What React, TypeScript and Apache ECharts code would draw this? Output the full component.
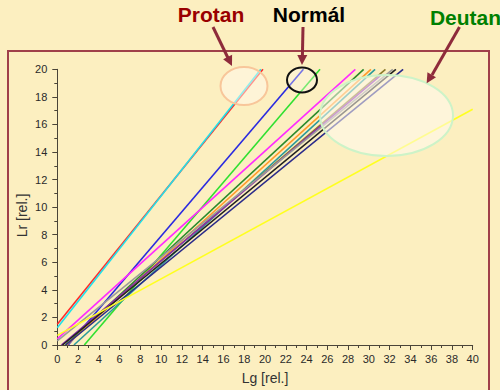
import React, { useEffect, useRef } from "react";
import * as echarts from "echarts";

const lineNames = ["red", "cyan", "blue", "lime", "magenta", "darkgreen", "orange", "teal", "olive", "purple", "gray", "black", "navy", "yellow"];
const lineStarts: [number, number][] = [
  [0, 1.5], [0, 1.25], [1.05, 0], [2.6, 0], [0, 0.45], [0.8, 0], [0.9, 0], [1.6, 0], [0.5, 0], [0.4, 0], [0, 0.3], [0.5, 0], [0.8, 0], [0, 0.7],
];
const lineEnds: [number, number][] = [
  [19.8, 20], [19.6, 20], [23.7, 20], [25.3, 20], [28.7, 20], [29.5, 20], [30.2, 20], [30.6, 20], [31.6, 20], [31.2, 19.6], [32.3, 20], [32.6, 20], [33.3, 20], [40, 17.1],
];
const lineColors = ["#ff2a2a", "#22e0e8", "#2a2ae0", "#30e030", "#ff2aff", "#2a8a2a", "#ff9a2a", "#2a9a9a", "#8a7a2a", "#8a2ab0", "#9a9a9a", "#202020", "#2a2a8a", "#ffff20"];

const xTicks = { min: 0, max: 40, interval: 2 };
const yTicks = { min: 0, max: 20, interval: 2 };
const titles = ["Protan", "Normál", "Deutan"];
const xName = "Lg [rel.]";
const yName = "Lr [rel.]";

export default function App() {
  const ref = useRef<HTMLDivElement>(null);
  useEffect(() => {
    if (!ref.current) return;
    const chart = echarts.init(ref.current, null, { renderer: "svg" });
    const axisCommon = {
      axisLine: { show: true, lineStyle: { color: "#4a4438", width: 1 } },
      axisTick: { show: true, length: 5, lineStyle: { color: "#4a4438" } },
      minorTick: { show: true, splitNumber: 2, length: 3, lineStyle: { color: "#4a4438" } },
      splitLine: { show: false },
      axisLabel: { color: "#2a2a2a", fontFamily: "Liberation Sans", fontSize: 11 },
      nameTextStyle: { color: "#333", fontFamily: "Liberation Sans", fontSize: 14 },
    };
    const arrowColor = "#8e2b3b";
    chart.setOption({
      animation: false,
      backgroundColor: "#fcefc0",
      grid: { left: 57.3, right: 27.3, top: 69.3, bottom: 43.3 },
      xAxis: {
        type: "value", ...xTicks, name: xName, nameLocation: "middle", nameGap: 26,
        ...axisCommon, axisLabel: { ...axisCommon.axisLabel, margin: 8 },
      },
      yAxis: {
        type: "value", ...yTicks,
        ...axisCommon, axisLabel: { ...axisCommon.axisLabel, margin: 10 },
      },
      series: lineNames.map((n, i) => ({
        name: n,
        type: "line",
        showSymbol: false,
        symbol: "none",
        data: [lineStarts[i], lineEnds[i]],
        lineStyle: { color: lineColors[i], width: 1.6 },
        z: n === "yellow" ? 3 : 2,
      })),
      graphic: [
        { type: "rect", shape: { x: 8, y: 51, width: 481, height: 360 }, style: { fill: "none", stroke: "#a0404a", lineWidth: 2 }, z: 50 },
        { type: "text", x: 21.5, y: 215.5, rotation: Math.PI / 2, style: { text: yName, fill: "#333", font: "14px 'Liberation Sans'", textAlign: "center", textVerticalAlign: "middle" }, z: 50 },
        { type: "ellipse", shape: { cx: 244, cy: 86, rx: 23.5, ry: 19 }, style: { fill: "rgba(255,250,238,0.5)", stroke: "#f8c69a", lineWidth: 2 }, z: 100 },
        { type: "ellipse", shape: { cx: 302, cy: 80, rx: 15, ry: 12.5 }, style: { fill: "rgba(255,250,238,0.35)", stroke: "#111", lineWidth: 2 }, z: 100 },
        { type: "ellipse", shape: { cx: 386.5, cy: 115.5, rx: 66.5, ry: 40.5 }, style: { fill: "rgba(255,250,238,0.55)", stroke: "#cdf3c8", lineWidth: 2 }, z: 100 },
        { type: "line", shape: { x1: 213, y1: 27, x2: 228, y2: 58 }, style: { stroke: arrowColor, lineWidth: 3 }, z: 110 },
        { type: "polygon", shape: { points: [[232, 66], [223.1, 59.2], [232.1, 54.8]] }, style: { fill: arrowColor }, z: 110 },
        { type: "line", shape: { x1: 303, y1: 27, x2: 302.4, y2: 56 }, style: { stroke: arrowColor, lineWidth: 3 }, z: 110 },
        { type: "polygon", shape: { points: [[302, 65], [297.3, 55], [307.3, 55]] }, style: { fill: arrowColor }, z: 110 },
        { type: "line", shape: { x1: 459.5, y1: 27, x2: 432, y2: 75 }, style: { stroke: arrowColor, lineWidth: 3 }, z: 110 },
        { type: "polygon", shape: { points: [[426.7, 83.3], [427.4, 72.2], [436, 77.2]] }, style: { fill: arrowColor }, z: 110 },
        { type: "text", x: 211, y: 25, style: { text: titles[0], fill: "#990000", font: "bold 21px 'Liberation Sans'", textAlign: "center", textVerticalAlign: "bottom" }, z: 120 },
        { type: "text", x: 309, y: 25, style: { text: titles[1], fill: "#000", font: "bold 21px 'Liberation Sans'", textAlign: "center", textVerticalAlign: "bottom" }, z: 120 },
        { type: "text", x: 465.5, y: 27.5, style: { text: titles[2], fill: "#008000", font: "bold 21px 'Liberation Sans'", textAlign: "center", textVerticalAlign: "bottom" }, z: 120 },
      ],
    });
    return () => chart.dispose();
  }, []);
  return <div ref={ref} style={{ position: "absolute", left: 0, top: 0, width: 500, height: 390 }} />;
}
